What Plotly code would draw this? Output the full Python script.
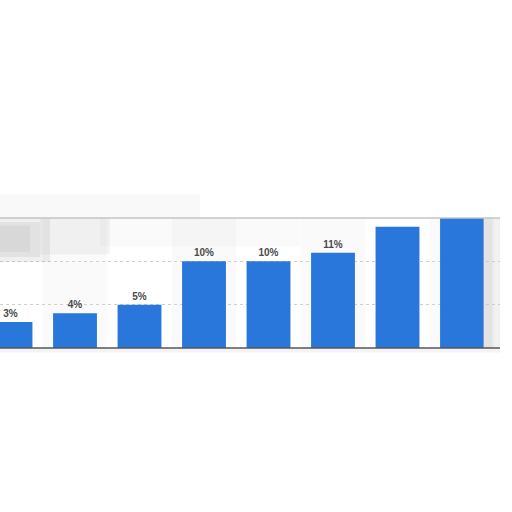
import plotly.graph_objects as go

# values (last two labels are hidden in the blurred top strip)
categories = ["A", "B", "C", "D", "E", "F", "G", "H"]
shares = [3, 4, 5, 10, 10, 11, 14, 15]
labels = ["3%", "4%", "5%", "10%", "10%", "11%", "", ""]

BLUE = "#2a77db"

fig = go.Figure()

fig.add_trace(go.Bar(
    x=categories,
    y=shares,
    text=labels,
    textposition="outside",
    textfont=dict(family="Liberation Sans, Arial", size=10, color="#4a4a4a",
                  weight="bold"),
    marker=dict(color=BLUE, line=dict(width=0)),
    width=0.68,
    cliponaxis=False,
    hoverinfo="skip",
))

# faint alternating column bands
for i in range(1, len(categories), 2):
    fig.add_shape(type="rect", xref="x", yref="y", layer="below",
                  x0=i - 0.5, x1=i + 0.5, y0=0, y1=15,
                  fillcolor="#fafafa", line_width=0)

# blurry grey smear at top left (stacked soft layers)
smear = [
    (0.0, 0.10, 0.66, 1.0, 0.12),
    (0.0, 0.08, 0.70, 0.97, 0.12),
    (0.0, 0.06, 0.74, 0.94, 0.10),
    (0.08, 0.22, 0.72, 1.0, 0.08),
    (0.20, 0.60, 0.78, 1.0, 0.04),
    (0.0, 0.40, 1.0, 1.18, 0.05),
]
for x0, x1, y0, y1, a in smear:
    fig.add_shape(type="rect", xref="paper", yref="paper", layer="above",
                  x0=x0, x1=x1, y0=y0, y1=y1,
                  fillcolor=f"rgba(130,130,130,{a})", line_width=0)

# shadow on the right edge
fig.add_shape(type="rect", xref="paper", yref="paper", layer="above",
              x0=0.966, x1=1.0, y0=0, y1=1.0,
              fillcolor="rgba(200,200,200,0.25)", line_width=0)
fig.add_shape(type="rect", xref="paper", yref="paper", layer="above",
              x0=0.966, x1=0.985, y0=0, y1=1.0,
              fillcolor="rgba(200,200,200,0.25)", line_width=0)

# top border and baseline
fig.add_shape(type="line", xref="paper", yref="paper",
              x0=0, x1=1, y0=1, y1=1, line=dict(color="#c4c4c4", width=1.5))
fig.add_shape(type="line", xref="paper", yref="paper",
              x0=0, x1=1, y0=0, y1=0, line=dict(color="#555555", width=1.5))
fig.add_shape(type="rect", xref="paper", yref="paper",
              x0=0, x1=1, y0=-0.035, y1=-0.008,
              fillcolor="rgba(200,200,200,0.2)", line_width=0)

fig.update_layout(
    width=512,
    height=512,
    margin=dict(l=0, r=12, t=218, b=164),
    paper_bgcolor="white",
    plot_bgcolor="white",
    showlegend=False,
    xaxis=dict(range=[-0.163, 7.589], showticklabels=False, showgrid=False,
               zeroline=False, ticks=""),
    yaxis=dict(range=[0, 15], showticklabels=False, zeroline=False,
               tickvals=[5, 10], showgrid=True, gridcolor="#cfcfcf",
               griddash="dot", gridwidth=1, ticks=""),
)

fig.write_html("out.html", config={"displayModeBar": False},
               post_script="document.body.style.margin='0';")
